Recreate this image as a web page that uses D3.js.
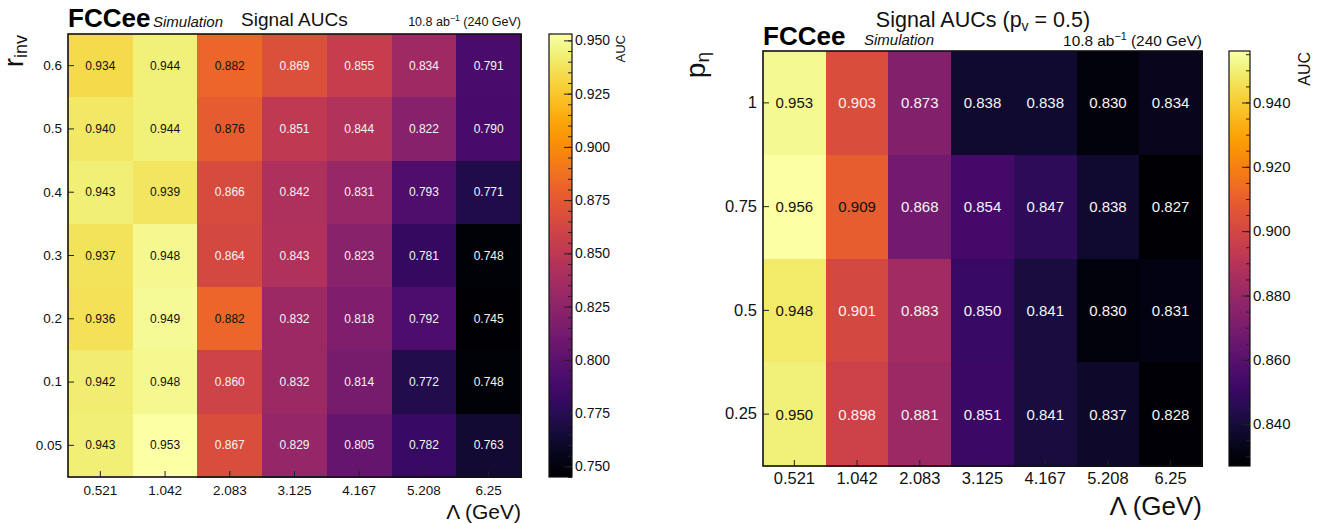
<!DOCTYPE html>
<html>
<head>
<meta charset="utf-8">
<script src="https://cdn.jsdelivr.net/npm/d3@7"></script>
<style>
  body { margin: 0; background: #fff; }
  svg { display: block; font-family: "Liberation Sans", Arial, Helvetica, sans-serif; }
</style>
</head>
<body>
<svg id="chart" width="1320" height="524"></svg>
<script>
// Λ values (GeV) shared by both grids
const lambdaLabels = ["0.521", "1.042", "2.083", "3.125", "4.167", "5.208", "6.25"];

// Left grid: r_inv rows, top to bottom
const rinvLabels = ["0.6", "0.5", "0.4", "0.3", "0.2", "0.1", "0.05"];
const aucRinv = [
  [0.934, 0.944, 0.882, 0.869, 0.855, 0.834, 0.791],
  [0.940, 0.944, 0.876, 0.851, 0.844, 0.822, 0.790],
  [0.943, 0.939, 0.866, 0.842, 0.831, 0.793, 0.771],
  [0.937, 0.948, 0.864, 0.843, 0.823, 0.781, 0.748],
  [0.936, 0.949, 0.882, 0.832, 0.818, 0.792, 0.745],
  [0.942, 0.948, 0.860, 0.832, 0.814, 0.772, 0.748],
  [0.943, 0.953, 0.867, 0.829, 0.805, 0.782, 0.763]
];
const rinvBarTicks = [0.750, 0.775, 0.800, 0.825, 0.850, 0.875, 0.900, 0.925, 0.950];

// Right grid: p_eta rows, top to bottom (p_v = 0.5)
const petaLabels = ["1", "0.75", "0.5", "0.25"];
const aucPeta = [
  [0.953, 0.903, 0.873, 0.838, 0.838, 0.830, 0.834],
  [0.956, 0.909, 0.868, 0.854, 0.847, 0.838, 0.827],
  [0.948, 0.901, 0.883, 0.850, 0.841, 0.830, 0.831],
  [0.950, 0.898, 0.881, 0.851, 0.841, 0.837, 0.828]
];
const petaBarTicks = [0.840, 0.860, 0.880, 0.900, 0.920, 0.940];

const svg = d3.select("#chart");
const defs = svg.append("defs");

function drawPanel(cfg) {
  const g = svg.append("g");
  const flat = cfg.values.flat();
  const vmin = d3.min(flat), vmax = d3.max(flat);
  const color = d3.scaleSequential(d3.interpolateInferno).domain([vmin, vmax]);
  const norm = d3.scaleLinear().domain([vmin, vmax]);

  const x = d3.scaleBand().domain(cfg.cols).range([cfg.plot.x0, cfg.plot.x1]).padding(0);
  const y = d3.scaleBand().domain(cfg.rows).range([cfg.plot.y0, cfg.plot.y1]).padding(0);

  const cells = [];
  cfg.values.forEach((row, i) => row.forEach((v, j) => cells.push({ r: cfg.rows[i], c: cfg.cols[j], v })));

  g.append("g").selectAll("rect").data(cells).join("rect")
    .attr("x", d => x(d.c))
    .attr("y", d => y(d.r))
    .attr("width", x.bandwidth() + 0.5)
    .attr("height", y.bandwidth() + 0.5)
    .attr("fill", d => color(d.v))
    .attr("shape-rendering", "crispEdges");

  g.append("g").selectAll("text").data(cells).join("text")
    .attr("x", d => x(d.c) + x.bandwidth() / 2)
    .attr("y", d => y(d.r) + y.bandwidth() / 2)
    .attr("text-anchor", "middle")
    .attr("dominant-baseline", "central")
    .attr("font-size", cfg.cellFont)
    .attr("fill", d => norm(d.v) > 0.61 ? "#111" : "#f4f4f4")
    .text(d => d3.format(".3f")(d.v));

  // axes with inward ticks
  const xAxis = g.append("g")
    .attr("transform", `translate(0,${cfg.plot.y1})`)
    .call(d3.axisBottom(x).tickSize(-6).tickPadding(cfg.xPad));
  const yAxis = g.append("g")
    .attr("transform", `translate(${cfg.plot.x0},0)`)
    .call(d3.axisLeft(y).tickSize(-6).tickPadding(cfg.yPad));
  [xAxis, yAxis].forEach(a => {
    a.select(".domain").remove();
    a.selectAll("line").attr("stroke", "#222").attr("stroke-width", 1);
    a.selectAll("text").attr("font-size", cfg.tickFont).attr("fill", "#111")
      .attr("font-family", "Liberation Sans, Arial, sans-serif");
  });

  g.append("rect")
    .attr("x", cfg.plot.x0).attr("y", cfg.plot.y0)
    .attr("width", cfg.plot.x1 - cfg.plot.x0).attr("height", cfg.plot.y1 - cfg.plot.y0)
    .attr("fill", "none").attr("stroke", "#111").attr("stroke-width", 1.6);

  // colour bar
  const gradId = "grad-" + cfg.id;
  const grad = defs.append("linearGradient").attr("id", gradId)
    .attr("x1", 0).attr("y1", 1).attr("x2", 0).attr("y2", 0);
  d3.range(0, 1.0001, 0.02).forEach(t => {
    grad.append("stop").attr("offset", t).attr("stop-color", d3.interpolateInferno(t));
  });
  const cb = cfg.bar;
  g.append("rect")
    .attr("x", cb.x0).attr("y", cfg.plot.y0)
    .attr("width", cb.x1 - cb.x0).attr("height", cfg.plot.y1 - cfg.plot.y0)
    .attr("fill", `url(#${gradId})`).attr("stroke", "#111").attr("stroke-width", 1.2);

  const yc = d3.scaleLinear().domain([vmin, vmax]).range([cfg.plot.y1, cfg.plot.y0]);
  const minorTicks = d3.range(Math.ceil(vmin * 200 - 1e-6), Math.floor(vmax * 200 + 1e-6) + 1).map(k => k / 200);
  const minorAxis = g.append("g").attr("transform", `translate(${cb.x1},0)`)
    .call(d3.axisRight(yc).tickValues(minorTicks).tickSize(-4).tickFormat(""));
  const majorAxis = g.append("g").attr("transform", `translate(${cb.x1},0)`)
    .call(d3.axisRight(yc).tickValues(cfg.barTicks).tickSize(-8).tickPadding(3).tickFormat(d3.format(".3f")));
  [minorAxis, majorAxis].forEach(a => {
    a.select(".domain").remove();
    a.selectAll("line").attr("stroke", "#222").attr("stroke-width", 1);
  });
  majorAxis.selectAll("text").attr("font-size", cfg.barFont).attr("fill", "#111")
    .attr("font-family", "Liberation Sans, Arial, sans-serif");

  g.append("text")
    .attr("transform", `translate(${cfg.aucX},${cfg.plot.y0 + 1}) rotate(-90)`)
    .attr("text-anchor", "end")
    .attr("font-size", cfg.aucFont).attr("fill", "#111")
    .text("AUC");

  // x-axis title
  g.append("text")
    .attr("x", cfg.plot.x1).attr("y", cfg.xTitleY)
    .attr("text-anchor", "end")
    .attr("font-size", cfg.xTitleFont).attr("fill", "#111")
    .text("Λ (GeV)");

  // y-axis title with subscript
  const yt = g.append("text")
    .attr("transform", `translate(${cfg.yTitle.x},${cfg.plot.y0 + 1}) rotate(-90)`)
    .attr("text-anchor", "end").attr("fill", "#111");
  yt.append("tspan").attr("font-size", cfg.yTitle.main).text(cfg.yTitle.sym);
  yt.append("tspan").attr("font-size", cfg.yTitle.sub).attr("dy", cfg.yTitle.dy).text(cfg.yTitle.subText);

  // experiment label
  g.append("text")
    .attr("x", cfg.plot.x0).attr("y", cfg.labelY)
    .attr("font-size", 26).attr("font-weight", "bold").attr("fill", "#000")
    .text("FCCee");
  g.append("text")
    .attr("x", cfg.simX).attr("y", cfg.labelY)
    .attr("font-size", 15).attr("font-style", "italic").attr("fill", "#111")
    .text("Simulation");

  // luminosity label
  const lumi = g.append("text")
    .attr("x", cfg.plot.x1).attr("y", cfg.lumiY)
    .attr("text-anchor", "end")
    .attr("font-size", cfg.lumiFont).attr("fill", "#111");
  lumi.append("tspan").text("10.8 ab");
  lumi.append("tspan").attr("font-size", cfg.lumiFont * 0.7).attr("dy", -cfg.lumiFont * 0.4).text("−1");
  lumi.append("tspan").attr("dy", cfg.lumiFont * 0.4).text(" (240 GeV)");

  return g;
}

const left = drawPanel({
  id: "rinv",
  values: aucRinv, rows: rinvLabels, cols: lambdaLabels,
  plot: { x0: 68, x1: 521, y0: 34, y1: 477 },
  bar: { x0: 549, x1: 572 },
  barTicks: rinvBarTicks,
  cellFont: 12, tickFont: 13.5, barFont: 14, aucFont: 13, aucX: 625,
  xPad: 8, yPad: 6,
  xTitleY: 519, xTitleFont: 21,
  yTitle: { x: 23, sym: "r", subText: "inv", main: 27, sub: 18, dy: 4 },
  labelY: 27, simX: 153, lumiY: 26, lumiFont: 12.5
});
left.append("text")
  .attr("x", 241).attr("y", 26)
  .attr("font-size", 19).attr("fill", "#111")
  .text("Signal AUCs");

const right = drawPanel({
  id: "peta",
  values: aucPeta, rows: petaLabels, cols: lambdaLabels,
  plot: { x0: 763, x1: 1202, y0: 51, y1: 466 },
  bar: { x0: 1229, x1: 1250 },
  barTicks: petaBarTicks,
  cellFont: 15, tickFont: 16.5, barFont: 15, aucFont: 16, aucX: 1310,
  xPad: 6, yPad: 6,
  xTitleY: 515, xTitleFont: 26,
  yTitle: { x: 705, sym: "p", subText: "η", main: 28, sub: 19, dy: 4 },
  labelY: 45, simX: 864, lumiY: 46, lumiFont: 15.4
});
const rt = right.append("text")
  .attr("x", 983).attr("y", 27)
  .attr("text-anchor", "middle")
  .attr("font-size", 21.5).attr("fill", "#111");
rt.append("tspan").text("Signal AUCs (p");
rt.append("tspan").attr("font-size", 14).attr("dy", 4).text("v");
rt.append("tspan").attr("dy", -4).text(" = 0.5)");
</script>
</body>
</html>
